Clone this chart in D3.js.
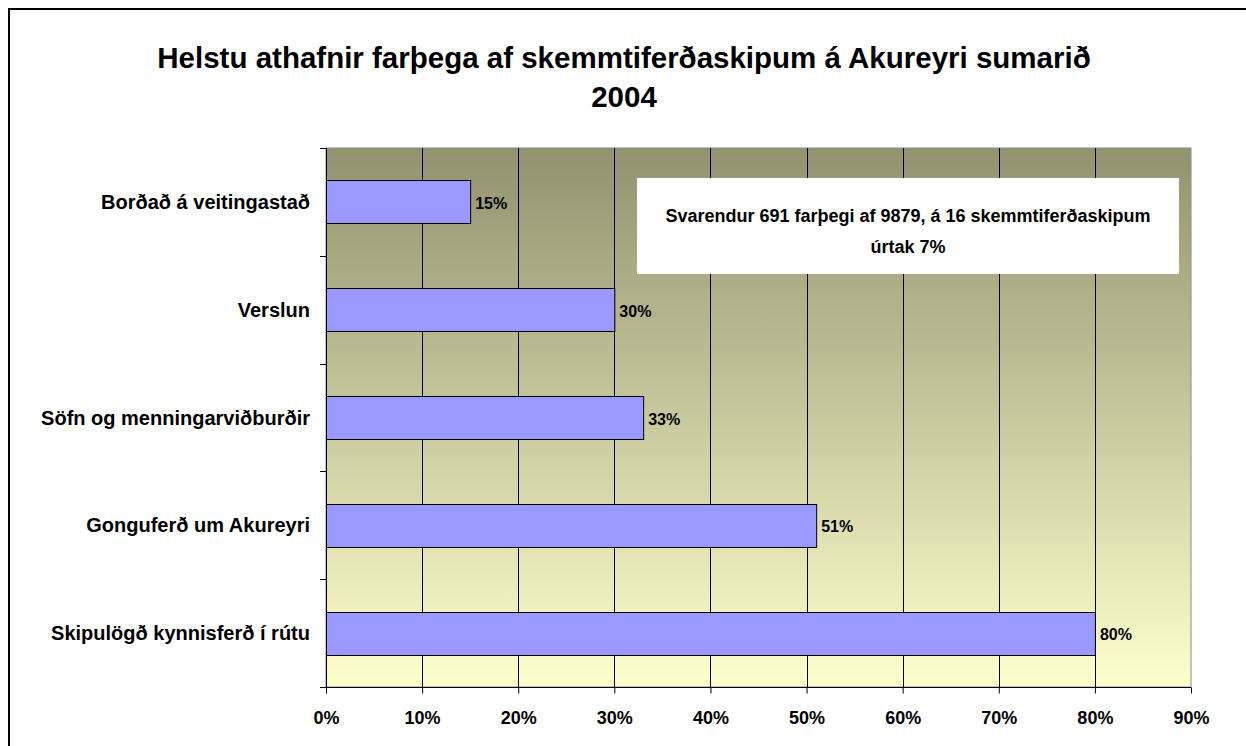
<!doctype html>
<html lang="is">
<head>
<meta charset="utf-8">
<title>Helstu athafnir farþega</title>
<script src="https://cdn.jsdelivr.net/npm/d3@7"></script>
<style>
body { margin: 0; background: #fff; }
text { font-family: "Liberation Sans", Arial, sans-serif; font-weight: bold; fill: #000; }
</style>
</head>
<body>
<script>

// data
var categories = ["Borðað á veitingastað", "Verslun", "Söfn og menningarviðburðir", "Gonguferð um Akureyri", "Skipulögð kynnisferð í rútu"];
var values = [15, 30, 33, 51, 80];
var ticks = [0, 10, 20, 30, 40, 50, 60, 70, 80, 90];
var titleLines = ["Helstu athafnir farþega af skemmtiferðaskipum á Akureyri sumarið", "2004"];
var noteLines = ["Svarendur 691 farþegi af 9879, á 16 skemmtiferðaskipum", "úrtak 7%"];

var width = 1246, height = 746;
var plot = { left: 326, top: 148, right: 1191, bottom: 687 };

var svg = d3.select("body").append("svg")
    .attr("width", width)
    .attr("height", height);

// outer frame
svg.append("rect")
    .attr("x", 9).attr("y", 9)
    .attr("width", width + 20).attr("height", height + 20)
    .attr("fill", "#fff")
    .attr("stroke", "#000")
    .attr("stroke-width", 2);

var grad = svg.append("defs").append("linearGradient")
    .attr("id", "bg").attr("x1", 0).attr("y1", 0).attr("x2", 0).attr("y2", 1);
grad.append("stop").attr("offset", "0%").attr("stop-color", "#929270");
grad.append("stop").attr("offset", "100%").attr("stop-color", "#ffffcc");

var x = d3.scaleLinear().domain([0, 90]).range([plot.left, plot.right]);
var y = d3.scaleBand().domain(categories).range([plot.top, plot.bottom]).paddingInner(0.6).paddingOuter(0.3);

svg.append("rect")
    .attr("x", plot.left).attr("y", plot.top)
    .attr("width", plot.right - plot.left).attr("height", plot.bottom - plot.top)
    .attr("fill", "url(#bg)")
    .attr("stroke", "#8a8a8a")
    .attr("stroke-width", 1);

// vertical gridlines
svg.append("g").selectAll("line")
    .data(ticks.slice(1, -1))
    .join("line")
    .attr("x1", function(d) { return Math.round(x(d)) + 0.5; })
    .attr("x2", function(d) { return Math.round(x(d)) + 0.5; })
    .attr("y1", plot.top).attr("y2", plot.bottom)
    .attr("stroke", "#000");

// note box
var note = svg.append("g");
note.append("rect")
    .attr("x", 637).attr("y", 178).attr("width", 542).attr("height", 96)
    .attr("fill", "#fff");
note.selectAll("text")
    .data(noteLines)
    .join("text")
    .attr("x", 908)
    .attr("y", function(d, i) { return 222 + i * 31; })
    .attr("text-anchor", "middle")
    .style("font-size", "18px")
    .text(function(d) { return d; });

// bars
svg.append("g").selectAll("rect")
    .data(values)
    .join("rect")
    .attr("x", x(0) + 0.5)
    .attr("y", function(d, i) { return Math.round(y(categories[i])) + 0.5; })
    .attr("width", function(d) { return x(d) - x(0); })
    .attr("height", Math.round(y.bandwidth()))
    .attr("fill", "#9999ff")
    .attr("stroke", "#000")
    .attr("stroke-width", 1);

svg.append("g").selectAll("text")
    .data(values)
    .join("text")
    .attr("x", function(d) { return x(d) + 5; })
    .attr("y", function(d, i) { return y(categories[i]) + y.bandwidth() / 2 + 7; })
    .style("font-size", "16px")
    .text(function(d) { return d + "%"; });

// x axis
var xAxis = svg.append("g")
    .attr("transform", "translate(0," + (plot.bottom + 0.5) + ")")
    .call(d3.axisBottom(x).tickValues(ticks).tickSize(6).tickFormat(function(d) { return d + "%"; }));
xAxis.select(".domain").attr("d", "M" + (plot.left - 6) + ",0H" + plot.right).attr("stroke", "#000");
xAxis.selectAll(".tick line").attr("stroke", "#000");
xAxis.selectAll(".tick text")
    .attr("y", 24)
    .style("font-size", "18px")
    .style("font-family", "'Liberation Sans', Arial, sans-serif")
    .style("font-weight", "bold");

// y axis with ticks at band boundaries
var bandStep = (plot.bottom - plot.top) / categories.length;
var yAxis = svg.append("g");
yAxis.append("line")
    .attr("x1", plot.left + 0.5).attr("x2", plot.left + 0.5)
    .attr("y1", plot.top).attr("y2", plot.bottom + 6)
    .attr("stroke", "#000");
yAxis.selectAll(".bt")
    .data(d3.range(categories.length))
    .join("line")
    .attr("class", "bt")
    .attr("x1", plot.left - 6).attr("x2", plot.left)
    .attr("y1", function(d) { return Math.round(plot.top + d * bandStep) + 0.5; })
    .attr("y2", function(d) { return Math.round(plot.top + d * bandStep) + 0.5; })
    .attr("stroke", "#000");
yAxis.selectAll("text")
    .data(categories)
    .join("text")
    .attr("x", 310)
    .attr("y", function(d) { return y(d) + y.bandwidth() / 2 + 7; })
    .attr("text-anchor", "end")
    .style("font-size", "20px")
    .text(function(d) { return d; });

// title
svg.append("g").selectAll("text")
    .data(titleLines)
    .join("text")
    .attr("x", 624)
    .attr("y", function(d, i) { return 68 + i * 39; })
    .attr("text-anchor", "middle")
    .style("font-size", "29.5px")
    .text(function(d) { return d; });

</script>
</body>
</html>
